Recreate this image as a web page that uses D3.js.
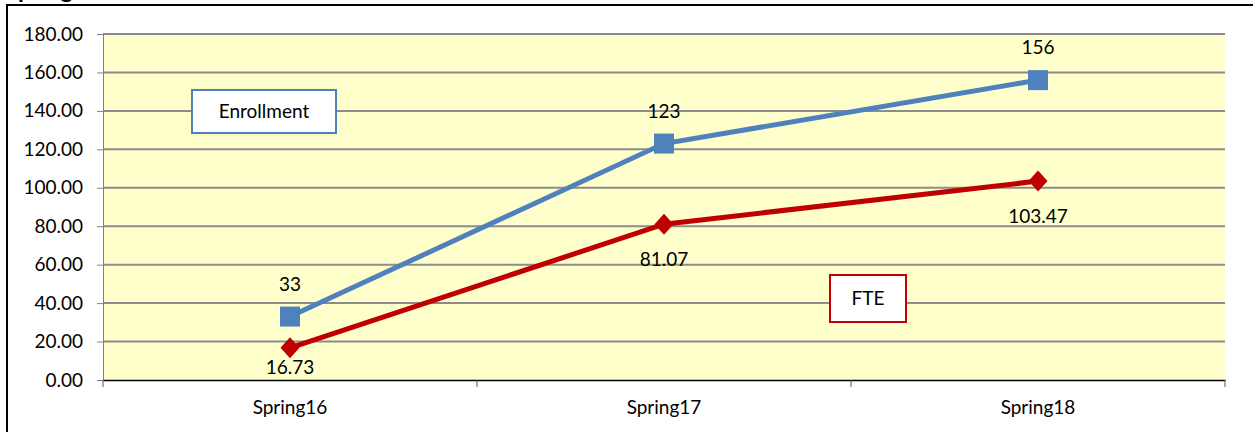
<!DOCTYPE html>
<html><head><meta charset="utf-8">
<script src="https://cdn.jsdelivr.net/npm/d3@7"></script>
<style>
html,body{margin:0;padding:0;background:#fff;}
svg text{font-family:Lato,"Open Sans",sans-serif;fill:#000;}
</style></head>
<body><svg id="c" width="1253" height="432"></svg>
<script>
const categories = ["Spring16","Spring17","Spring18"];
const enrollment = [33,123,156];
const fte = [16.73,81.07,103.47];
const enrollmentLabels = ["33","123","156"];
const fteLabels = ["16.73","81.07","103.47"];
const yTicks = [0,20,40,60,80,100,120,140,160,180];
const titleText = "Spring";

const svg = d3.select("#c");
const L = 103, R = 1225, T = 34, B = 380;
const FS = 19;
const x = d3.scaleBand().domain(categories).range([L,R]);
const y = d3.scaleLinear().domain([0,180]).range([B,T]);
const cx = d => x(d) + x.bandwidth()/2;

// partial title clipped at top
svg.append("text").attr("x",5).attr("y",-2).attr("font-size",24).attr("font-weight","bold").text(titleText);

// outer frame
svg.append("rect").attr("x",7).attr("y",5).attr("width",1260).attr("height",440)
  .attr("fill","none").attr("stroke","#000").attr("stroke-width",2);

// plot background
svg.append("rect").attr("x",L).attr("y",T).attr("width",R-L).attr("height",B-T).attr("fill","#FFFFCC");

// gridlines
svg.append("g").selectAll("line").data(yTicks.filter(v=>v>0)).join("line")
  .attr("x1",L).attr("x2",R).attr("y1",d=>y(d)).attr("y2",d=>y(d))
  .attr("stroke","#8c8c8c").attr("stroke-width",2);

// y axis
const ya = svg.append("g").attr("transform",`translate(${L},0)`)
  .call(d3.axisLeft(y).tickValues(yTicks).tickFormat(d3.format(".2f")).tickSize(6).tickPadding(14));
ya.select(".domain").attr("stroke","#808080").attr("stroke-width",1);
ya.selectAll(".tick line").attr("stroke","#808080");
ya.selectAll("text").attr("font-size",FS).attr("font-family","Lato,'Open Sans',sans-serif").attr("fill","#000");

// x axis
const xa = svg.append("g").attr("transform",`translate(0,${B})`)
  .call(d3.axisBottom(x).tickSize(0).tickPadding(21));
xa.select(".domain").attr("stroke","#000").attr("stroke-width",1.5);
xa.selectAll("text").attr("font-size",FS).attr("font-family","Lato,'Open Sans',sans-serif").attr("fill","#000");
const bounds = categories.map(c=>x(c)).concat([R]);
svg.append("g").selectAll("line").data(bounds).join("line")
  .attr("x1",d=>d).attr("x2",d=>d).attr("y1",B).attr("y2",B+7)
  .attr("stroke","#555").attr("stroke-width",1);

const line = d3.line().x((d,i)=>cx(categories[i])).y(d=>y(d));

// Enrollment
svg.append("path").datum(enrollment).attr("d",line).attr("fill","none")
  .attr("stroke","#4F81BD").attr("stroke-width",5);
svg.append("g").selectAll("rect").data(enrollment).join("rect")
  .attr("x",(d,i)=>cx(categories[i])-10).attr("y",d=>y(d)-10)
  .attr("width",20).attr("height",20).attr("fill","#4F81BD");

// FTE
svg.append("path").datum(fte).attr("d",line).attr("fill","none")
  .attr("stroke","#C00000").attr("stroke-width",5);
svg.append("g").selectAll("path.dm").data(fte).join("path")
  .attr("d",(d,i)=>{const px=cx(categories[i]),py=y(d);return `M${px},${py-10.5}L${px+9.5},${py}L${px},${py+10.5}L${px-9.5},${py}Z`;})
  .attr("fill","#C00000");

// data labels
svg.append("g").selectAll("text").data(enrollment).join("text")
  .attr("x",(d,i)=>cx(categories[i])).attr("y",d=>y(d)-26)
  .attr("text-anchor","middle").attr("font-size",FS).text((d,i)=>enrollmentLabels[i]);
svg.append("g").selectAll("text").data(fte).join("text")
  .attr("x",(d,i)=>cx(categories[i])).attr("y",d=>Math.min(y(d)+42, B-6))
  .attr("text-anchor","middle").attr("font-size",FS).text((d,i)=>fteLabels[i]);

// legend-like boxes
function box(x0,y0,w,h,color,label){
  svg.append("rect").attr("x",x0).attr("y",y0).attr("width",w).attr("height",h)
    .attr("fill","#fff").attr("stroke",color).attr("stroke-width",2);
  svg.append("text").attr("x",x0+w/2).attr("y",y0+h/2+6).attr("text-anchor","middle")
    .attr("font-size",FS).text(label);
}
box(192,90,144,43,"#4F81BD","Enrollment");
box(830,275,76,47,"#C00000","FTE");
</script></body></html>
